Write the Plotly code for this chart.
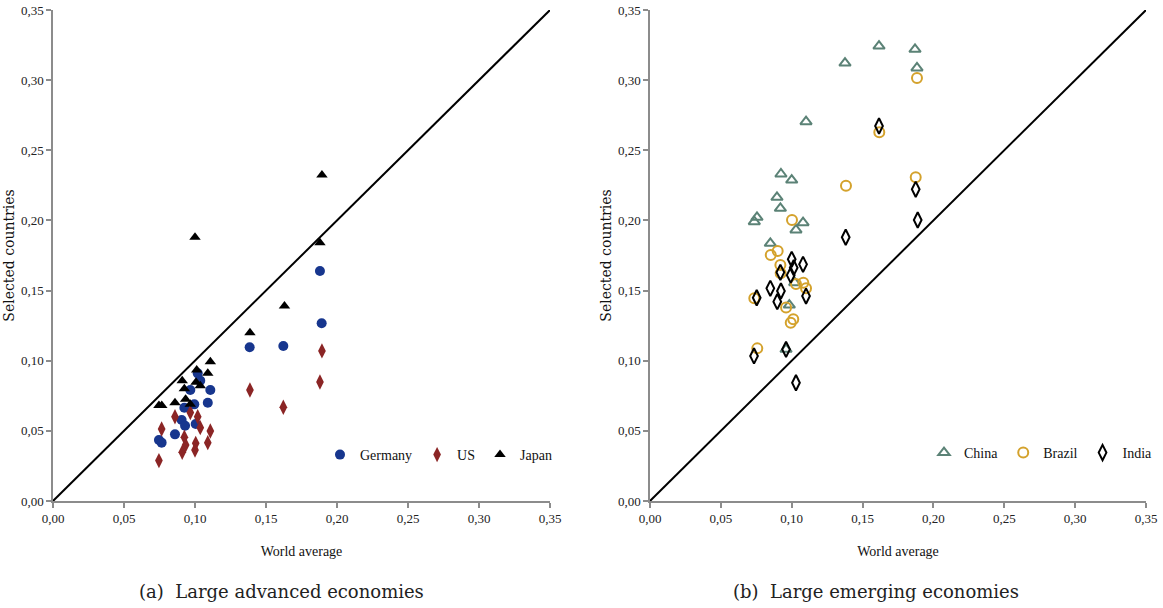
import plotly.graph_objects as go

# ---------------- data ----------------
tick_vals = [0.00, 0.05, 0.10, 0.15, 0.20, 0.25, 0.30, 0.35]

germany_x = [0.0746, 0.0765, 0.0859, 0.0906, 0.0930, 0.0925, 0.0967, 0.0995, 0.1005,
             0.1019, 0.1037, 0.1090, 0.1108, 0.1385, 0.1622, 0.1880, 0.1892]
germany_y = [0.0435, 0.0416, 0.0475, 0.0577, 0.0537, 0.0665, 0.0791, 0.0689, 0.0549,
             0.0910, 0.0858, 0.0700, 0.0791, 0.1096, 0.1105, 0.1640, 0.1267]

us_x = [0.0746, 0.0765, 0.0859, 0.0910, 0.0925, 0.0934, 0.0967, 0.1000, 0.1005,
        0.1019, 0.1037, 0.1090, 0.1108, 0.1387, 0.1622, 0.1880, 0.1894]
us_y = [0.0288, 0.0513, 0.0601, 0.0347, 0.0454, 0.0399, 0.0630, 0.0364, 0.0411,
        0.0601, 0.0523, 0.0416, 0.0499, 0.0791, 0.0668, 0.0848, 0.1070]

japan_x = [0.0746, 0.0766, 0.0859, 0.0910, 0.0925, 0.0934, 0.0967, 0.1000, 0.1007,
           0.1012, 0.1037, 0.1090, 0.1108, 0.1387, 0.1630, 0.1880, 0.1894]
japan_y = [0.0680, 0.0680, 0.0700, 0.0858, 0.0800, 0.0725, 0.0690, 0.1880, 0.0846,
           0.0934, 0.0822, 0.0910, 0.0993, 0.1200, 0.1390, 0.1840, 0.2324]

china_x = [0.0736, 0.0755, 0.0849, 0.0896, 0.0920, 0.0924, 0.0960, 0.0983, 0.1000,
           0.1021, 0.1030, 0.1080, 0.1101, 0.1376, 0.1616, 0.1870, 0.1884]
china_y = [0.1991, 0.2022, 0.1837, 0.2165, 0.2086, 0.2331, 0.1081, 0.1397, 0.2288,
           0.1556, 0.1932, 0.1984, 0.2704, 0.3122, 0.3243, 0.3220, 0.3087]

brazil_x = [0.0736, 0.0757, 0.0852, 0.0901, 0.0920, 0.0922, 0.0960, 0.0993, 0.1002,
            0.1011, 0.1030, 0.1082, 0.1101, 0.1383, 0.1618, 0.1875, 0.1884]
brazil_y = [0.1445, 0.1088, 0.1754, 0.1782, 0.1682, 0.1623, 0.1380, 0.1271, 0.2003,
            0.1295, 0.1547, 0.1556, 0.1516, 0.2248, 0.2628, 0.2307, 0.3015]

india_x = [0.0734, 0.0753, 0.0849, 0.0898, 0.0920, 0.0924, 0.0960, 0.0993, 0.1000,
           0.1014, 0.1030, 0.1080, 0.1101, 0.1381, 0.1616, 0.1875, 0.1889]
india_y = [0.1034, 0.1449, 0.1516, 0.1421, 0.1630, 0.1497, 0.1081, 0.1610, 0.1723,
           0.1663, 0.0843, 0.1687, 0.1461, 0.1880, 0.2673, 0.2222, 0.2003]

diag = [0.0, 0.35]

# ---------------- styling ----------------
TICK_FONT = dict(family="Liberation Serif", size=13, color="#222")
LEG_FONT = dict(family="Liberation Serif", size=14, color="#111")
AX_COLOR = "#8c8c8c"

fig = go.Figure()

def add(x, y, name, symbol, color, size, xa, ya, legend, open_=False):
    marker = dict(symbol=symbol, size=size, color=color)
    if open_:
        marker["line"] = dict(color=color, width=2)
    else:
        marker["line"] = dict(width=0)
    fig.add_trace(go.Scatter(x=x, y=y, mode="markers", name=name, marker=marker,
                             xaxis=xa, yaxis=ya, legend=legend, cliponaxis=False))

# diagonal lines
fig.add_trace(go.Scatter(x=diag, y=diag, mode="lines", line=dict(color="black", width=2),
                         showlegend=False, xaxis="x", yaxis="y", hoverinfo="skip"))
fig.add_trace(go.Scatter(x=diag, y=diag, mode="lines", line=dict(color="black", width=2),
                         showlegend=False, xaxis="x2", yaxis="y2", hoverinfo="skip"))

add(germany_x, germany_y, "Germany", "circle", "#17368e", 10, "x", "y", "legend")
add(us_x, us_y, "US", "diamond-tall", "#8b2525", 11, "x", "y", "legend")
add(japan_x, japan_y, "Japan", "triangle-up", "#000000", 10, "x", "y", "legend")

add(china_x, china_y, "China", "triangle-up-open", "#5b8276", 10, "x2", "y2", "legend2", True)
add(brazil_x, brazil_y, "Brazil", "circle-open", "#d4a22c", 10, "x2", "y2", "legend2", True)
add(india_x, india_y, "India", "diamond-tall-open", "#000000", 11, "x2", "y2", "legend2", True)

W, H = 1163, 608
def xd(a, b):
    return [a / W, b / W]
ydom = [(H - 501) / H, (H - 10) / H]

ax_common = dict(range=[0, 0.35], tickvals=tick_vals, tickformat=".2f",
                 showgrid=False, zeroline=False, showline=True, linecolor=AX_COLOR,
                 linewidth=1.5, ticks="outside", ticklen=5, tickwidth=1.5,
                 tickcolor=AX_COLOR, tickfont=TICK_FONT, automargin=False, fixedrange=True)

XT_FONT = dict(family="Liberation Serif", size=14, color="#111")
YT_FONT = dict(family="DejaVu Serif", size=14, color="#111")

fig.update_layout(
    width=W, height=H,
    separators=",.",
    paper_bgcolor="white", plot_bgcolor="white",
    margin=dict(l=0, r=0, t=0, b=0),
    xaxis=dict(domain=xd(53, 550), anchor="y",
               title=dict(text="World average", font=XT_FONT, standoff=21), **ax_common),
    yaxis=dict(domain=ydom, anchor="x",
               title=dict(text="Selected countries", font=YT_FONT, standoff=3), **ax_common),
    xaxis2=dict(domain=xd(650, 1146), anchor="y2",
                title=dict(text="World average", font=XT_FONT, standoff=21), **ax_common),
    yaxis2=dict(domain=ydom, anchor="x2",
                title=dict(text="Selected countries", font=YT_FONT, standoff=3), **ax_common),
    legend=dict(orientation="h", x=320 / W, y=(H - 455) / H, xanchor="left", yanchor="middle",
                font=LEG_FONT, bgcolor="rgba(0,0,0,0)", itemwidth=30),
    legend2=dict(orientation="h", x=924 / W, y=(H - 453) / H, xanchor="left", yanchor="middle",
                 font=LEG_FONT, bgcolor="rgba(0,0,0,0)", itemwidth=30),
    showlegend=True,
    annotations=[
        dict(text="(a)  Large advanced economies", x=281 / W, y=(H - 591) / H,
             xref="paper", yref="paper", showarrow=False, xanchor="center", yanchor="middle",
             font=dict(family="DejaVu Serif", size=18, color="#222")),
        dict(text="(b)  Large emerging economies", x=876 / W, y=(H - 591) / H,
             xref="paper", yref="paper", showarrow=False, xanchor="center", yanchor="middle",
             font=dict(family="DejaVu Serif", size=18, color="#222")),
    ],
)

fig.write_html("out.html", config={"displayModeBar": False},
               post_script="document.body.style.margin='0';")
